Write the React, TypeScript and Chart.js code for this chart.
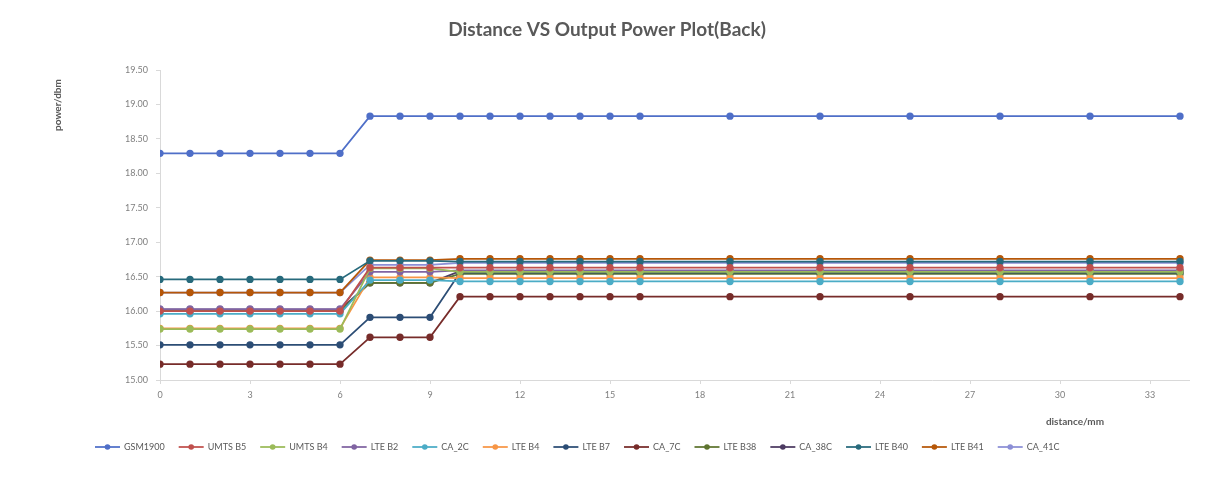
import { useEffect, useRef } from "react";
import { Chart, registerables } from "chart.js";

Chart.register(...registerables);

const TITLE = "Distance VS Output Power Plot(Back)";
const X_TITLE = "distance/mm";
const Y_TITLE = "power/dbm";

const DISTANCES = [0, 1, 2, 3, 4, 5, 6, 7, 8, 9, 10, 11, 12, 13, 14, 15, 16, 19, 22, 25, 28, 31, 34];
const Y_TICK_MIN = 15;
const Y_TICK_MAX = 19.5;
const Y_TICK_STEP = 0.5;
const X_TICK_STEP = 3;

const SERIES_NAMES = [
  "GSM1900", "UMTS B5", "UMTS B4", "LTE B2", "CA_2C", "LTE B4", "LTE B7",
  "CA_7C", "LTE B38", "CA_38C", "LTE B40", "LTE B41", "CA_41C",
];

const SERIES_COLORS = [
  "#4F6FC8", "#C0504D", "#9BBB59", "#8064A2", "#4BACC6", "#F79646", "#2C4D75",
  "#772C2A", "#5F7530", "#4D3B62", "#276A7C", "#B65708", "#8C8FD6",
];

const GSM1900 = [18.29, 18.29, 18.29, 18.29, 18.29, 18.29, 18.29, 18.83, 18.83, 18.83, 18.83, 18.83, 18.83, 18.83, 18.83, 18.83, 18.83, 18.83, 18.83, 18.83, 18.83, 18.83, 18.83];
const UMTS_B5 = [16.0, 16.0, 16.0, 16.0, 16.0, 16.0, 16.0, 16.63, 16.63, 16.63, 16.63, 16.63, 16.63, 16.63, 16.63, 16.63, 16.63, 16.63, 16.63, 16.63, 16.63, 16.63, 16.63];
const UMTS_B4 = [15.74, 15.74, 15.74, 15.74, 15.74, 15.74, 15.74, 16.62, 16.62, 16.62, 16.57, 16.57, 16.57, 16.57, 16.57, 16.57, 16.57, 16.57, 16.57, 16.57, 16.57, 16.57, 16.57];
const LTE_B2 = [16.03, 16.03, 16.03, 16.03, 16.03, 16.03, 16.03, 16.57, 16.57, 16.57, 16.59, 16.59, 16.59, 16.59, 16.59, 16.59, 16.59, 16.59, 16.59, 16.59, 16.59, 16.59, 16.59];
const CA_2C = [15.96, 15.96, 15.96, 15.96, 15.96, 15.96, 15.96, 16.45, 16.45, 16.45, 16.43, 16.43, 16.43, 16.43, 16.43, 16.43, 16.43, 16.43, 16.43, 16.43, 16.43, 16.43, 16.43];
const LTE_B4 = [15.75, 15.75, 15.75, 15.75, 15.75, 15.75, 15.75, 16.49, 16.49, 16.49, 16.48, 16.48, 16.48, 16.48, 16.48, 16.48, 16.48, 16.48, 16.48, 16.48, 16.48, 16.48, 16.48];
const LTE_B7 = [15.51, 15.51, 15.51, 15.51, 15.51, 15.51, 15.51, 15.91, 15.91, 15.91, 16.56, 16.56, 16.56, 16.56, 16.56, 16.56, 16.56, 16.56, 16.56, 16.56, 16.56, 16.56, 16.56];
const CA_7C = [15.23, 15.23, 15.23, 15.23, 15.23, 15.23, 15.23, 15.62, 15.62, 15.62, 16.21, 16.21, 16.21, 16.21, 16.21, 16.21, 16.21, 16.21, 16.21, 16.21, 16.21, 16.21, 16.21];
const LTE_B38 = [16.0, 16.0, 16.0, 16.0, 16.0, 16.0, 16.0, 16.41, 16.41, 16.41, 16.54, 16.54, 16.54, 16.54, 16.54, 16.54, 16.54, 16.54, 16.54, 16.54, 16.54, 16.54, 16.54];
const CA_38C = [16.02, 16.02, 16.02, 16.02, 16.02, 16.02, 16.02, 16.41, 16.41, 16.41, 16.58, 16.58, 16.58, 16.58, 16.58, 16.58, 16.58, 16.58, 16.58, 16.58, 16.58, 16.58, 16.58];
const LTE_B40 = [16.46, 16.46, 16.46, 16.46, 16.46, 16.46, 16.46, 16.73, 16.73, 16.73, 16.72, 16.72, 16.72, 16.72, 16.72, 16.72, 16.72, 16.72, 16.72, 16.72, 16.72, 16.72, 16.72];
const LTE_B41 = [16.27, 16.27, 16.27, 16.27, 16.27, 16.27, 16.27, 16.74, 16.74, 16.74, 16.76, 16.76, 16.76, 16.76, 16.76, 16.76, 16.76, 16.76, 16.76, 16.76, 16.76, 16.76, 16.76];
const CA_41C = [16.27, 16.27, 16.27, 16.27, 16.27, 16.27, 16.27, 16.67, 16.67, 16.67, 16.70, 16.70, 16.70, 16.70, 16.70, 16.70, 16.70, 16.70, 16.70, 16.70, 16.70, 16.70, 16.70];

const SERIES_VALUES = [
  GSM1900, UMTS_B5, UMTS_B4, LTE_B2, CA_2C, LTE_B4, LTE_B7,
  CA_7C, LTE_B38, CA_38C, LTE_B40, LTE_B41, CA_41C,
];

const FONT = "Lato, 'Open Sans', sans-serif";

const overlayPlugin = {
  id: "overlayText",
  afterDraw(chart: any) {
    const ctx = chart.ctx as CanvasRenderingContext2D;
    ctx.save();
    // Title
    ctx.fillStyle = "#595959";
    ctx.font = `bold 19px ${FONT}`;
    ctx.textAlign = "center";
    ctx.textBaseline = "middle";
    ctx.fillText(TITLE, 607, 30);

    // Y axis title (rotated)
    ctx.font = `bold 10px ${FONT}`;
    ctx.save();
    ctx.translate(58, 105);
    ctx.rotate(-Math.PI / 2);
    ctx.fillText(Y_TITLE, 0, 0);
    ctx.restore();

    // X axis title
    ctx.fillText(X_TITLE, 1075, 422);

    // Legend
    ctx.font = `9px ${FONT}`;
    ctx.textAlign = "left";
    let x = 95;
    const y = 447;
    SERIES_NAMES.forEach((name, i) => {
      const c = SERIES_COLORS[i];
      ctx.strokeStyle = c;
      ctx.lineWidth = 1.75;
      ctx.beginPath();
      ctx.moveTo(x, y);
      ctx.lineTo(x + 25, y);
      ctx.stroke();
      ctx.fillStyle = c;
      ctx.beginPath();
      ctx.arc(x + 12.5, y, 2.8, 0, Math.PI * 2);
      ctx.fill();
      ctx.fillStyle = "#595959";
      ctx.fillText(name, x + 29, y);
      x += 29 + ctx.measureText(name).width + 14;
    });
    ctx.restore();
  },
};

export default function App() {
  const ref = useRef<HTMLCanvasElement | null>(null);

  useEffect(() => {
    document.body.style.margin = "0";
    const canvas = ref.current;
    if (!canvas) return;
    const datasets = SERIES_NAMES.map((name, i) => ({
      label: name,
      data: DISTANCES.map((d, j) => ({ x: d, y: SERIES_VALUES[i][j] })),
      borderColor: SERIES_COLORS[i],
      backgroundColor: SERIES_COLORS[i],
      pointBackgroundColor: SERIES_COLORS[i],
      pointBorderColor: SERIES_COLORS[i],
      borderWidth: 1.75,
      pointRadius: 2.8,
      pointHoverRadius: 2.8,
      tension: 0,
      fill: false,
    }));

    const chart = new Chart(canvas, {
      type: "line",
      data: { datasets },
      options: {
        responsive: false,
        animation: false,
        devicePixelRatio: 1,
        layout: { padding: { left: 110, right: 17, top: 70, bottom: 69 } },
        plugins: {
          legend: { display: false },
          title: { display: false },
          tooltip: { enabled: false },
        },
        scales: {
          x: {
            type: "linear",
            min: 0,
            max: 34.3,
            afterBuildTicks: (scale: any) => {
              scale.ticks = scale.ticks.filter((t: any) => Math.abs(t.value % X_TICK_STEP) < 1e-9);
            },
            afterFit: (scale: any) => {
              scale.height = 30;
            },
            ticks: {
              stepSize: X_TICK_STEP,
              color: "#7f7f7f",
              font: { family: FONT, size: 9 },
              maxRotation: 0,
              padding: 6,
            },
            grid: { drawOnChartArea: false, drawTicks: true, tickLength: 4, color: "#d9d9d9" },
            border: { color: "#d9d9d9" },
          },
          y: {
            type: "linear",
            min: Y_TICK_MIN,
            max: Y_TICK_MAX,
            afterFit: (scale: any) => {
              scale.width = 50;
            },
            ticks: {
              stepSize: Y_TICK_STEP,
              color: "#7f7f7f",
              font: { family: FONT, size: 9 },
              padding: 8,
              callback: (v: any) => Number(v).toFixed(2),
            },
            grid: { drawOnChartArea: false, drawTicks: true, tickLength: 4, color: "#d9d9d9" },
            border: { color: "#d9d9d9" },
          },
        },
      },
      plugins: [overlayPlugin],
    });
    return () => chart.destroy();
  }, []);

  return <canvas ref={ref} width={1206} height={479} style={{ display: "block" }} />;
}
